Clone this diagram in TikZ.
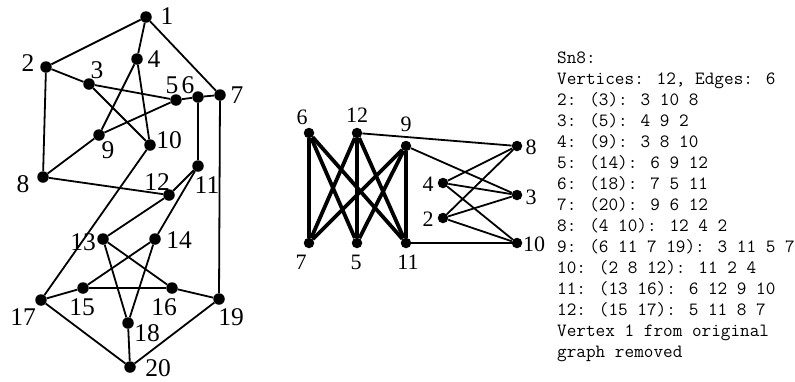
\documentclass[tikz,border=0pt]{standalone}
\usepackage{fontspec}
\setmainfont{Liberation Serif}
\begin{document}
\begin{tikzpicture}[x=1pt,y=-1pt,
  v/.style={circle,fill=black,inner sep=0pt,minimum size=11.5pt},
  w/.style={circle,fill=black,inner sep=0pt,minimum size=10.5pt},
  lab/.style={inner sep=0pt,font=\fontsize{25.5}{25.5}\selectfont},
  mlab/.style={inner sep=0pt,font=\fontsize{22}{22}\selectfont},
  e/.style={line width=1.8pt},
  te/.style={line width=3.8pt},
  txt/.style={inner sep=0pt,anchor=base west,font=\fontsize{18.7}{21}\selectfont\ttfamily}]
\useasboundingbox (0,0) rectangle (795,381);
% ---------- left graph ----------
\node[v] (a1) at (146,17) {};
\node[v] (a2) at (46,67) {};
\node[v] (a3) at (89,84) {};
\node[v] (a4) at (137,59) {};
\node[v] (a5) at (176,100) {};
\node[v] (a6) at (198,97) {};
\node[v] (a7) at (220,95) {};
\node[v] (a8) at (43,177) {};
\node[v] (a9) at (99,135) {};
\node[v] (a10) at (150,145) {};
\node[v] (a11) at (198,166) {};
\node[v] (a12) at (169,195) {};
\node[v] (a13) at (103,239) {};
\node[v] (a14) at (155,239) {};
\node[v] (a15) at (83,288) {};
\node[v] (a16) at (172,288) {};
\node[v] (a17) at (41,300) {};
\node[v] (a18) at (128,323) {};
\node[v] (a19) at (219,299) {};
\node[v] (a20) at (130,367) {};
\foreach \p/\q in {1/2,1/4,1/7,2/3,2/8,3/5,3/10,4/9,4/10,5/6,5/9,6/7,6/11,7/19,8/9,8/12,
  10/17,11/12,11/14,12/13,13/16,13/18,14/15,14/18,15/16,15/17,16/19,17/20,18/20,19/20}
  \draw[e] (a\p) -- (a\q);
\node[lab] (la1) at (167,16) {1};
\node[lab] (la2) at (28,63) {2};
\node[lab] (la3) at (97,70) {3};
\node[lab] (la4) at (154,59) {4};
\node[lab] (la5) at (172,85) {5};
\node[lab] (la6) at (188,85) {6};
\node[lab] (la7) at (237,95) {7};
\node[lab] (la8) at (23,184) {8};
\node[lab] (la9) at (108,150) {9};
\node[lab] (la10) at (169,140) {10};
\node[lab] (la11) at (207,185) {11};
\node[lab] (la12) at (157,182) {12};
\node[lab] (la13) at (83,242) {13};
\node[lab] (la14) at (179,240) {14};
\node[lab] (la15) at (82,307) {15};
\node[lab] (la16) at (164,307) {16};
\node[lab] (la17) at (23,317) {17};
\node[lab] (la18) at (147,333) {18};
\node[lab] (la19) at (231,317) {19};
\node[lab] (la20) at (158,368) {20};
% ---------- middle graph ----------
\node[w] (b6) at (309,133) {};
\node[w] (b12) at (357,133) {};
\node[w] (b9) at (406,146) {};
\node[w] (b8) at (517,146) {};
\node[w] (b4) at (443,183) {};
\node[w] (b3) at (517,195) {};
\node[w] (b2) at (443,218) {};
\node[w] (b10) at (517,243) {};
\node[w] (b7) at (309,243) {};
\node[w] (b5) at (357,243) {};
\node[w] (b11) at (406,243) {};
\foreach \p in {6,12,9}
  \foreach \q in {7,5,11}
    \draw[te] (b\p) -- (b\q);
\foreach \p/\q in {12/8,9/3,11/10,4/8,4/3,4/10,2/8,2/3,2/10}
  \draw[e] (b\p) -- (b\q);
\node[mlab] (lb6) at (302,117) {6};
\node[mlab] (lb12) at (357,115) {12};
\node[mlab] (lb9) at (406,124) {9};
\node[mlab] (lb8) at (531,147) {8};
\node[mlab] (lb4) at (428,184) {4};
\node[mlab] (lb3) at (531,197) {3};
\node[mlab] (lb2) at (428,219) {2};
\node[mlab] (lb10) at (534,244) {10};
\node[mlab] (lb7) at (301,262) {7};
\node[mlab] (lb5) at (356,262) {5};
\node[mlab] (lb11) at (408,262) {11};
% ---------- text ----------
\node[txt] (t0) at (557,63) {Sn8:};
\node[txt] (t1) at (557,84.07) {Vertices: 12, Edges: 6};
\node[txt] (t2) at (557,105.14) {2: (3): 3 10 8};
\node[txt] (t3) at (557,126.21) {3: (5): 4 9 2};
\node[txt] (t4) at (557,147.28) {4: (9): 3 8 10};
\node[txt] (t5) at (557,168.35) {5: (14): 6 9 12};
\node[txt] (t6) at (557,189.42) {6: (18): 7 5 11};
\node[txt] (t7) at (557,210.49) {7: (20): 9 6 12};
\node[txt] (t8) at (557,231.56) {8: (4 10): 12 4 2};
\node[txt] (t9) at (557,252.63) {9: (6 11 7 19): 3 11 5 7};
\node[txt] (t10) at (557,273.70) {10: (2 8 12): 11 2 4};
\node[txt] (t11) at (557,294.77) {11: (13 16): 6 12 9 10};
\node[txt] (t12) at (557,315.84) {12: (15 17): 5 11 8 7};
\node[txt] (t13) at (557,336.91) {Vertex 1 from original};
\node[txt] (t14) at (557,357.98) {graph removed};
\end{tikzpicture}
\end{document}
